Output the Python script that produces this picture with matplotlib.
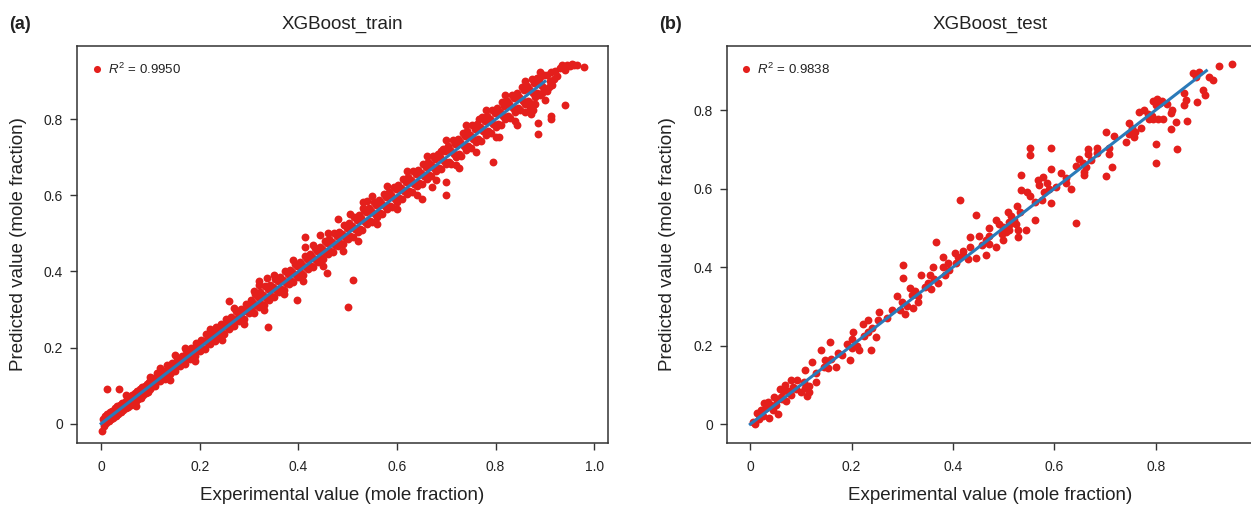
import matplotlib
matplotlib.use("Agg")
import matplotlib.pyplot as plt

# ---- data ----
# training set: dense band along the diagonal
train_band_exp = [
    0.003, 0.005, 0.008, 0.010, 0.012, 0.015, 0.018, 0.020, 0.022, 0.025, 0.028, 0.030, 0.033, 0.035, 0.038, 0.040, 0.043, 0.045, 0.048, 0.050,
    0.053, 0.055, 0.058, 0.060, 0.063, 0.065, 0.068, 0.070, 0.073, 0.075, 0.078, 0.080, 0.083, 0.085, 0.088, 0.090, 0.093, 0.095, 0.098, 0.100,
    0.103, 0.105, 0.108, 0.110, 0.113, 0.115, 0.118, 0.120, 0.123, 0.125, 0.128, 0.130, 0.133, 0.135, 0.138, 0.140, 0.143, 0.145, 0.148, 0.150,
    0.153, 0.155, 0.158, 0.160, 0.163, 0.165, 0.168, 0.170, 0.173, 0.175, 0.178, 0.180, 0.183, 0.185, 0.188, 0.190, 0.193, 0.195, 0.198, 0.200,
    0.203, 0.205, 0.208, 0.210, 0.213, 0.215, 0.218, 0.220, 0.223, 0.225, 0.228, 0.230, 0.233, 0.235, 0.238, 0.240, 0.243, 0.245, 0.248, 0.250,
    0.253, 0.255, 0.258, 0.260, 0.263, 0.265, 0.268, 0.270, 0.273, 0.275, 0.278, 0.280, 0.283, 0.285, 0.288, 0.290, 0.293, 0.295, 0.298, 0.300,
    0.303, 0.305, 0.308, 0.310, 0.313, 0.315, 0.318, 0.320, 0.323, 0.325, 0.328, 0.330, 0.333, 0.335, 0.338, 0.340, 0.343, 0.345, 0.348, 0.350,
    0.353, 0.355, 0.358, 0.360, 0.363, 0.365, 0.368, 0.370, 0.373, 0.375, 0.378, 0.380, 0.383, 0.385, 0.388, 0.390, 0.393, 0.395, 0.398, 0.400,
    0.403, 0.405, 0.408, 0.410, 0.413, 0.415, 0.418, 0.420, 0.423, 0.425, 0.428, 0.430, 0.433, 0.435, 0.438, 0.440, 0.443, 0.445, 0.448, 0.450,
    0.453, 0.455, 0.458, 0.460, 0.463, 0.465, 0.468, 0.470, 0.473, 0.475, 0.478, 0.480, 0.483, 0.485, 0.488, 0.490, 0.493, 0.495, 0.498, 0.500,
    0.503, 0.505, 0.508, 0.510, 0.513, 0.515, 0.518, 0.520, 0.523, 0.525, 0.528, 0.530, 0.533, 0.535, 0.538, 0.540, 0.543, 0.545, 0.548, 0.550,
    0.553, 0.555, 0.558, 0.560, 0.563, 0.565, 0.568, 0.570, 0.573, 0.575, 0.578, 0.580, 0.583, 0.585, 0.588, 0.590, 0.593, 0.595, 0.598, 0.600,
    0.603, 0.605, 0.608, 0.610, 0.613, 0.615, 0.618, 0.620, 0.623, 0.625, 0.628, 0.630, 0.633, 0.635, 0.638, 0.640, 0.643, 0.645, 0.648, 0.650,
    0.653, 0.655, 0.658, 0.660, 0.663, 0.665, 0.668, 0.670, 0.673, 0.675, 0.678, 0.680, 0.683, 0.685, 0.688, 0.690, 0.693, 0.695, 0.698, 0.700,
    0.703, 0.705, 0.708, 0.710, 0.713, 0.715, 0.718, 0.720, 0.723, 0.725, 0.728, 0.730, 0.733, 0.735, 0.738, 0.740, 0.743, 0.745, 0.748, 0.750,
    0.753, 0.755, 0.758, 0.760, 0.763, 0.765, 0.768, 0.770, 0.773, 0.775, 0.778, 0.780, 0.783, 0.785, 0.788, 0.790, 0.793, 0.795, 0.798, 0.800,
    0.803, 0.805, 0.808, 0.810, 0.813, 0.815, 0.818, 0.820, 0.823, 0.825, 0.828, 0.830, 0.833, 0.835, 0.838, 0.840, 0.843, 0.845, 0.848, 0.850,
    0.853, 0.855, 0.858, 0.860, 0.863, 0.865, 0.868, 0.870, 0.873, 0.875, 0.878, 0.880, 0.883, 0.885, 0.888, 0.890, 0.893, 0.895, 0.898, 0.900,
    0.905, 0.910, 0.913, 0.918, 0.920, 0.925, 0.930, 0.935, 0.940, 0.945, 0.950, 0.955, 0.960, 0.965, 0.980, 0.908, 0.915, 0.870, 0.880, 0.895,
    0.905, 0.860,
]
train_band_pred = [
    0.012, -0.006, 0.020, 0.002, 0.025, 0.008, 0.030, 0.012, 0.034, 0.016, 0.040, 0.020, 0.045, 0.026, 0.050, 0.030, 0.055, 0.036, 0.058, 0.040,
    0.066, 0.044, 0.070, 0.050, 0.075, 0.054, 0.080, 0.060, 0.086, 0.064, 0.090, 0.068, 0.095, 0.074, 0.100, 0.080, 0.104, 0.084, 0.110, 0.090,
    0.119, 0.099, 0.118, 0.098, 0.133, 0.113, 0.131, 0.111, 0.139, 0.119, 0.138, 0.118, 0.153, 0.133, 0.151, 0.131, 0.159, 0.139, 0.158, 0.138,
    0.173, 0.153, 0.171, 0.151, 0.179, 0.159, 0.178, 0.158, 0.193, 0.173, 0.191, 0.171, 0.199, 0.179, 0.198, 0.178, 0.213, 0.193, 0.211, 0.191,
    0.221, 0.197, 0.216, 0.196, 0.235, 0.215, 0.230, 0.210, 0.241, 0.217, 0.236, 0.216, 0.255, 0.235, 0.250, 0.230, 0.261, 0.237, 0.256, 0.236,
    0.275, 0.255, 0.270, 0.250, 0.281, 0.257, 0.276, 0.256, 0.295, 0.275, 0.290, 0.270, 0.301, 0.277, 0.296, 0.276, 0.315, 0.295, 0.310, 0.290,
    0.325, 0.295, 0.318, 0.292, 0.341, 0.311, 0.334, 0.306, 0.345, 0.315, 0.338, 0.312, 0.361, 0.331, 0.354, 0.326, 0.365, 0.335, 0.358, 0.332,
    0.381, 0.351, 0.374, 0.346, 0.385, 0.355, 0.378, 0.352, 0.401, 0.371, 0.394, 0.366, 0.405, 0.375, 0.398, 0.372, 0.421, 0.391, 0.414, 0.386,
    0.425, 0.395, 0.418, 0.392, 0.441, 0.411, 0.434, 0.406, 0.445, 0.415, 0.438, 0.412, 0.461, 0.431, 0.454, 0.426, 0.465, 0.435, 0.458, 0.432,
    0.481, 0.451, 0.474, 0.446, 0.485, 0.455, 0.478, 0.452, 0.501, 0.471, 0.494, 0.466, 0.505, 0.475, 0.498, 0.472, 0.521, 0.491, 0.514, 0.486,
    0.528, 0.493, 0.520, 0.490, 0.543, 0.511, 0.536, 0.504, 0.548, 0.513, 0.540, 0.510, 0.563, 0.531, 0.556, 0.524, 0.568, 0.533, 0.560, 0.530,
    0.583, 0.551, 0.576, 0.544, 0.588, 0.553, 0.580, 0.550, 0.603, 0.571, 0.596, 0.564, 0.608, 0.573, 0.600, 0.570, 0.623, 0.591, 0.616, 0.584,
    0.628, 0.593, 0.620, 0.590, 0.643, 0.611, 0.636, 0.604, 0.648, 0.613, 0.640, 0.610, 0.663, 0.631, 0.656, 0.624, 0.668, 0.633, 0.660, 0.630,
    0.683, 0.651, 0.676, 0.644, 0.688, 0.653, 0.680, 0.650, 0.703, 0.671, 0.696, 0.664, 0.708, 0.673, 0.700, 0.670, 0.723, 0.691, 0.716, 0.684,
    0.729, 0.689, 0.720, 0.684, 0.745, 0.709, 0.736, 0.700, 0.749, 0.709, 0.740, 0.704, 0.765, 0.729, 0.756, 0.720, 0.769, 0.729, 0.760, 0.724,
    0.785, 0.749, 0.776, 0.740, 0.789, 0.749, 0.780, 0.744, 0.805, 0.769, 0.796, 0.760, 0.809, 0.769, 0.800, 0.764, 0.825, 0.789, 0.816, 0.780,
    0.829, 0.789, 0.820, 0.784, 0.845, 0.809, 0.836, 0.800, 0.849, 0.809, 0.840, 0.804, 0.865, 0.829, 0.856, 0.820, 0.869, 0.829, 0.860, 0.824,
    0.885, 0.849, 0.876, 0.840, 0.889, 0.849, 0.880, 0.844, 0.905, 0.869, 0.896, 0.860, 0.909, 0.869, 0.900, 0.864, 0.913, 0.889, 0.916, 0.880,
    0.918, 0.900, 0.925, 0.905, 0.928, 0.915, 0.935, 0.942, 0.930, 0.944, 0.940, 0.945, 0.944, 0.943, 0.938, 0.885, 0.890, 0.830, 0.840, 0.870,
    0.875, 0.820,
]
# training set: points on the ragged edges of the band
train_edge_exp = [0.050, 0.070, 0.120, 0.140, 0.170, 0.190, 0.220, 0.245, 0.270, 0.290, 0.310,
                  0.330, 0.350, 0.370, 0.390, 0.410, 0.430, 0.450, 0.460, 0.490, 0.505, 0.520,
                  0.540, 0.560, 0.580, 0.600, 0.620, 0.640, 0.660, 0.680, 0.700, 0.720, 0.740,
                  0.760, 0.780, 0.800, 0.820, 0.840, 0.860, 0.875, 0.890, 0.900]
train_edge_pred = [0.075, 0.045, 0.145, 0.115, 0.200, 0.165, 0.250, 0.220, 0.305, 0.262, 0.350,
                   0.298, 0.390, 0.340, 0.430, 0.375, 0.470, 0.415, 0.500, 0.455, 0.550, 0.480,
                   0.585, 0.525, 0.625, 0.565, 0.665, 0.600, 0.705, 0.640, 0.745, 0.680, 0.785,
                   0.715, 0.825, 0.755, 0.865, 0.795, 0.900, 0.825, 0.925, 0.850]
# training set: scattered points off the band
train_out_exp = [0.940, 0.912, 0.912, 0.886, 0.886, 0.872, 0.843, 0.806, 0.794, 0.766, 0.725, 0.700, 0.700,
                 0.690, 0.672, 0.650, 0.550, 0.531, 0.531, 0.510, 0.500, 0.480, 0.458, 0.444, 0.413, 0.413,
                 0.397, 0.338, 0.336, 0.320, 0.320, 0.259, 0.150, 0.100, 0.036, 0.011, 0.002]
train_out_pred = [0.837, 0.810, 0.800, 0.790, 0.762, 0.813, 0.785, 0.753, 0.687, 0.800, 0.672, 0.635, 0.600,
                  0.716, 0.622, 0.590, 0.598, 0.582, 0.567, 0.378, 0.307, 0.538, 0.396, 0.496, 0.490, 0.465,
                  0.325, 0.254, 0.383, 0.375, 0.365, 0.322, 0.181, 0.123, 0.092, 0.092, -0.020]

test_exp = [
    0.006, 0.010, 0.013, 0.017, 0.020, 0.022, 0.025, 0.027, 0.030, 0.035,
    0.036, 0.040, 0.045, 0.046, 0.050, 0.052, 0.055, 0.059, 0.060, 0.063,
    0.065, 0.068, 0.070, 0.075, 0.080, 0.080, 0.085, 0.090, 0.093, 0.100,
    0.105, 0.108, 0.108, 0.111, 0.115, 0.115, 0.121, 0.130, 0.130, 0.140,
    0.145, 0.147, 0.154, 0.157, 0.160, 0.169, 0.173, 0.180, 0.190, 0.196,
    0.200, 0.200, 0.203, 0.210, 0.215, 0.222, 0.225, 0.232, 0.233, 0.239,
    0.240, 0.249, 0.252, 0.254, 0.270, 0.280, 0.290, 0.295, 0.300, 0.302,
    0.302, 0.305, 0.310, 0.315, 0.320, 0.321, 0.325, 0.330, 0.330, 0.337,
    0.345, 0.350, 0.355, 0.357, 0.360, 0.362, 0.367, 0.370, 0.380, 0.380,
    0.385, 0.390, 0.393, 0.403, 0.405, 0.410, 0.413, 0.420, 0.420, 0.430,
    0.433, 0.433, 0.446, 0.446, 0.452, 0.458, 0.465, 0.466, 0.472, 0.472,
    0.472, 0.485, 0.485, 0.490, 0.496, 0.498, 0.498, 0.500, 0.505, 0.508,
    0.510, 0.510, 0.512, 0.515, 0.520, 0.525, 0.527, 0.528, 0.528, 0.533,
    0.535, 0.535, 0.544, 0.546, 0.551, 0.551, 0.551, 0.562, 0.562, 0.568,
    0.570, 0.575, 0.578, 0.580, 0.585, 0.590, 0.594, 0.594, 0.594, 0.604,
    0.613, 0.623, 0.623, 0.633, 0.643, 0.643, 0.648, 0.656, 0.658, 0.658,
    0.662, 0.666, 0.666, 0.673, 0.684, 0.684, 0.701, 0.702, 0.708, 0.708,
    0.714, 0.718, 0.741, 0.747, 0.748, 0.753, 0.758, 0.760, 0.768, 0.771,
    0.776, 0.784, 0.786, 0.793, 0.795, 0.795, 0.800, 0.801, 0.801, 0.802,
    0.805, 0.808, 0.812, 0.814, 0.822, 0.831, 0.831, 0.832, 0.840, 0.843,
    0.856, 0.860, 0.855, 0.861, 0.873, 0.880, 0.882, 0.886, 0.893, 0.897,
    0.906, 0.913, 0.924, 0.950,
]
test_pred = [
    0.006, 0.000, 0.028, 0.012, 0.020, 0.035, 0.020, 0.053, 0.040, 0.057,
    0.015, 0.048, 0.035, 0.070, 0.050, 0.062, 0.025, 0.090, 0.070, 0.063,
    0.085, 0.100, 0.060, 0.085, 0.075, 0.113, 0.095, 0.090, 0.112, 0.083,
    0.108, 0.092, 0.137, 0.071, 0.098, 0.082, 0.158, 0.130, 0.108, 0.190,
    0.146, 0.163, 0.142, 0.210, 0.165, 0.146, 0.180, 0.175, 0.205, 0.163,
    0.195, 0.218, 0.235, 0.200, 0.190, 0.256, 0.225, 0.265, 0.235, 0.189,
    0.245, 0.222, 0.265, 0.286, 0.270, 0.290, 0.327, 0.290, 0.310, 0.405,
    0.373, 0.280, 0.300, 0.346, 0.330, 0.297, 0.340, 0.326, 0.310, 0.380,
    0.350, 0.360, 0.380, 0.345, 0.401, 0.370, 0.465, 0.360, 0.400, 0.426,
    0.380, 0.410, 0.392, 0.437, 0.410, 0.425, 0.571, 0.440, 0.430, 0.420,
    0.451, 0.477, 0.422, 0.532, 0.478, 0.455, 0.470, 0.430, 0.500, 0.460,
    0.480, 0.520, 0.450, 0.510, 0.485, 0.502, 0.470, 0.500, 0.490, 0.540,
    0.515, 0.495, 0.510, 0.530, 0.520, 0.510, 0.555, 0.477, 0.494, 0.540,
    0.634, 0.596, 0.494, 0.590, 0.580, 0.704, 0.685, 0.565, 0.519, 0.621,
    0.610, 0.570, 0.630, 0.590, 0.615, 0.600, 0.704, 0.651, 0.562, 0.604,
    0.640, 0.628, 0.613, 0.600, 0.513, 0.658, 0.676, 0.665, 0.643, 0.634,
    0.655, 0.700, 0.688, 0.672, 0.702, 0.690, 0.632, 0.745, 0.703, 0.688,
    0.654, 0.733, 0.719, 0.767, 0.738, 0.755, 0.732, 0.745, 0.796, 0.754,
    0.800, 0.790, 0.777, 0.786, 0.776, 0.823, 0.812, 0.713, 0.666, 0.828,
    0.777, 0.818, 0.822, 0.776, 0.815, 0.793, 0.751, 0.800, 0.770, 0.700,
    0.843, 0.825, 0.813, 0.772, 0.893, 0.885, 0.821, 0.897, 0.850, 0.838,
    0.883, 0.876, 0.912, 0.916,
]

# fitted line end points (drawn on both panels)
fit_x = [0.0, 0.9]
fit_y = [0.0, 0.9]

r2_train = "0.9950"
r2_test = "0.9838"
x_ticks_train = [0, 0.2, 0.4, 0.6, 0.8, 1.0]
x_labels_train = ["0", "0.2", "0.4", "0.6", "0.8", "1.0"]
x_ticks_test = [0, 0.2, 0.4, 0.6, 0.8]
x_labels_test = ["0", "0.2", "0.4", "0.6", "0.8"]
y_ticks = [0, 0.2, 0.4, 0.6, 0.8]
y_labels = ["0", "0.2", "0.4", "0.6", "0.8"]

RED = "#E41F1C"
BLUE = "#2A7AB9"
EDGE = "#333333"
DOT = 32

plt.rcParams["font.family"] = ["Liberation Sans", "DejaVu Sans"]
plt.rcParams["mathtext.fontset"] = "custom"
plt.rcParams["mathtext.rm"] = "Liberation Sans"
plt.rcParams["mathtext.it"] = "Liberation Sans:italic"

W, H = 1251, 507
fig = plt.figure(figsize=(W / 100, H / 100), dpi=100)


def add_axes_px(left, top, right, bottom):
    return fig.add_axes([left / W, 1 - bottom / H, (right - left) / W, (bottom - top) / H])


ax1 = add_axes_px(77, 46, 608, 443)
ax2 = add_axes_px(727, 46, 1253, 443)


def style(ax, xlim, ylim, xt, xl):
    ax.set_xlim(*xlim)
    ax.set_ylim(*ylim)
    ax.set_xticks(xt)
    ax.set_xticklabels(xl)
    ax.set_yticks(y_ticks)
    ax.set_yticklabels(y_labels)
    ax.tick_params(axis="both", direction="out", length=5, width=1, colors=EDGE,
                   labelcolor="#222222", labelsize=10)
    ax.tick_params(axis="x", pad=7)
    ax.tick_params(axis="y", pad=5)
    for sp in ax.spines.values():
        sp.set_color(EDGE)
        sp.set_linewidth(1.1)
    ax.set_xlabel("Experimental value (mole fraction)", fontsize=13.5, color="#222222")
    ax.set_ylabel("Predicted value (mole fraction)", fontsize=13.5, color="#222222")
    ax.xaxis.set_label_coords(0.5, -0.112)


# (a) training set
ax1.scatter(train_band_exp, train_band_pred, s=DOT, color=RED, linewidths=0, zorder=2)
ax1.scatter(train_edge_exp, train_edge_pred, s=DOT, color=RED, linewidths=0, zorder=2)
ax1.scatter(train_out_exp, train_out_pred, s=DOT, color=RED, linewidths=0, zorder=2)
ax1.plot(fit_x, fit_y, color=BLUE, lw=2.2, zorder=3)
style(ax1, (-0.049, 1.028), (-0.051, 0.993), x_ticks_train, x_labels_train)
ax1.yaxis.set_label_coords(-0.095, 0.5)
ax1.scatter([0.037], [0.942], s=26, color=RED, linewidths=0, transform=ax1.transAxes)
ax1.text(0.058, 0.942, r"$\mathit{R}^2$ = " + r2_train, transform=ax1.transAxes,
         fontsize=9.5, va="center", ha="left", color="#222222")

# (b) test set
ax2.scatter(test_exp, test_pred, s=DOT, color=RED, linewidths=0, zorder=2)
ax2.plot(fit_x, fit_y, color=BLUE, lw=2.2, zorder=3)
style(ax2, (-0.046, 0.992), (-0.048, 0.963), x_ticks_test, x_labels_test)
ax2.yaxis.set_label_coords(-0.097, 0.5)
ax2.scatter([0.036], [0.942], s=26, color=RED, linewidths=0, transform=ax2.transAxes)
ax2.text(0.057, 0.942, r"$\mathit{R}^2$ = " + r2_test, transform=ax2.transAxes,
         fontsize=9.5, va="center", ha="left", color="#222222")

# panel titles and tags
fig.text(342 / W, 1 - 29 / H, "XGBoost_train", ha="center", va="baseline", fontsize=13.5, color="#222222")
fig.text(990 / W, 1 - 29 / H, "XGBoost_test", ha="center", va="baseline", fontsize=13.5, color="#222222")
fig.text(9 / W, 1 - 29 / H, "(a)", ha="left", va="baseline", fontsize=13, fontweight="bold", color="#222222")
fig.text(659 / W, 1 - 29 / H, "(b)", ha="left", va="baseline", fontsize=13, fontweight="bold", color="#222222")

fig.savefig("out.png", dpi=100)
plt.close(fig)
